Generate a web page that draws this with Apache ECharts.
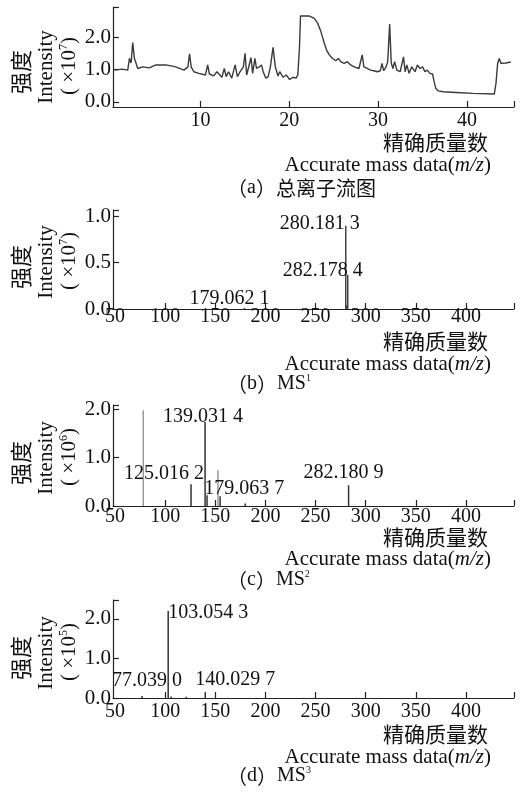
<!DOCTYPE html>
<html><head><meta charset="utf-8">
<script src="https://cdn.jsdelivr.net/npm/echarts@6/dist/echarts.min.js"></script>
<style>html,body{margin:0;padding:0;background:#fff}#c{width:530px;height:792px}</style>
</head><body><div id="c"></div>
<script>
// ---------- (a) total ion chromatogram ----------
const ticTime = [0.33,1.2,1.81,2.0,2.19,2.37,2.56,2.75,2.93,3.49,4.23,4.98,6.10,7.21,8.14,8.58,8.77,8.95,9.25,9.81,10.56,10.81,11.0,11.48,11.85,12.41,12.68,12.90,13.16,13.52,13.90,14.16,14.46,14.83,15.02,15.20,15.39,15.69,15.87,16.13,16.31,16.61,16.87,17.06,17.36,17.62,17.87,18.17,18.43,18.73,18.92,19.29,19.66,20.04,20.40,20.77,20.96,21.15,21.26,22.27,22.82,23.19,23.56,23.94,24.20,24.50,24.87,25.23,25.53,25.79,26.17,26.54,26.91,27.29,27.84,28.21,28.40,28.77,29.14,29.52,29.88,30.25,30.44,30.63,30.89,31.08,31.30,31.48,31.67,31.86,32.11,32.48,32.86,33.04,33.23,33.49,33.79,34.16,34.42,34.71,35.01,35.27,35.54,35.83,36.13,36.27,36.50,36.76,37.32,38.81,40.67,43.08,43.27,43.46,43.64,43.82,44.38,44.94];
const ticIntensity = [0.98,1.01,0.98,1.34,1.20,1.83,1.34,1.19,1.03,1.08,1.05,1.14,1.14,1.08,0.98,1.08,1.48,1.08,0.93,0.88,0.83,1.14,0.86,0.80,0.93,0.76,1.03,0.78,0.93,0.73,1.14,0.78,0.93,1.08,1.50,0.83,0.78,1.37,0.88,1.34,1.03,1.08,1.14,0.93,0.73,0.78,1.08,1.68,1.08,0.80,0.93,0.76,0.83,0.69,0.76,0.73,0.83,1.70,2.65,2.65,2.58,2.43,2.17,1.81,1.60,1.45,1.34,1.27,1.34,1.24,1.19,1.24,1.14,1.08,1.03,1.45,1.08,1.03,0.98,0.96,0.93,0.96,1.19,0.96,1.08,1.24,2.40,1.19,1.03,1.24,0.98,0.93,1.39,0.93,1.14,0.88,1.08,0.93,1.14,1.03,1.08,0.93,0.98,0.88,0.86,0.67,0.41,0.34,0.31,0.29,0.26,0.24,0.57,1.19,1.34,1.19,1.20,1.23];
const ticXLabels = [10, 20, 30, 40];
const ticYLabels = [0, 1, 2];

// ---------- (b) MS1 ----------
const ms1Mz = [179.0621, 280.1813, 281.18, 282.1784];
const ms1Intensity = [0.012, 0.90, 0.04, 0.37];
const ms1PeakLabels = ['179.062 1', '280.181 3', '', '282.178 4'];
const ms1YLabels = [0, 0.5, 1.0];

// ---------- (c) MS2 ----------
const ms2Mz = [125.0162, 139.0314, 141.0, 154.0, 179.0637, 282.1809];
const ms2Intensity = [0.45, 1.74, 0.22, 0.20, 0.05, 0.43];
const ms2PeakLabels = ['125.016 2', '139.031 4', '', '', '179.063 7', '282.180 9'];
const ms2FaintMz = [79.0, 153.5];
const ms2FaintIntensity = [1.98, 0.74];
const ms2YLabels = [0, 1, 2];

// ---------- (d) MS3 ----------
const ms3Mz = [77.0390, 103.0543, 106.0, 121.0, 140.0297];
const ms3Intensity = [0.05, 2.20, 0.04, 0.03, 0.15];
const ms3PeakLabels = ['77.039 0', '103.054 3', '', '', '140.029 7'];
const ms3YLabels = [0, 1, 2];

const msXLabels = [50, 100, 150, 200, 250, 300, 350, 400];
const msXTicks = [100, 150, 200, 250, 300, 350, 400];

// ---------- layout / style ----------
const SERIF = '"Liberation Serif","Times New Roman",serif';
const CJK = '"Noto Sans CJK SC",sans-serif';
const INK = '#111';
const panels = [
  {top: 7,   h: 100, ymin: -0.16, ymax: 2.93, xmin: 0.15, xmax: 45.3, xl: ticXLabels, xt: ticXLabels.concat([45.3]), yl: ticYLabels, lm: 4,
   yname: 67, exp: '7', title: 142, eng: 165, cap: 188, capL: 'a', capT: '总离子流图'},
  {top: 210, h: 99,  ymin: 0, ymax: 1.07, xmin: 48, xmax: 448, xl: msXLabels, xt: msXTicks.concat([448]), yl: ms1YLabels, lm: -2,
   yname: 262, exp: '7', title: 341, eng: 364, cap: 384, capL: 'b', capMS: '1'},
  {top: 405, h: 101, ymin: 0, ymax: 2.09, xmin: 48, xmax: 448, xl: msXLabels, xt: msXTicks.concat([448]), yl: ms2YLabels, lm: 1,
   yname: 458, exp: '6', title: 537, eng: 559, cap: 580, capL: 'c', capMS: '2'},
  {top: 600, h: 98,  ymin: 0, ymax: 2.48, xmin: 48, xmax: 448, xl: msXLabels, xt: msXTicks.concat([448]), yl: ms3YLabels, lm: 4,
   yname: 653, exp: '5', title: 734, eng: 757, cap: 776, capL: 'd', capMS: '3'}
];
const labelOffsets = {
  ms1: [[-15, 6], [-26, 13], null, [-25, 11]],
  ms2: [[-27, 4], [-2, 10], null, null, [-1, 0], [-5, 3]],
  ms3: [[5, 0], [40, 17], null, null, [30, 3]]
};

const axisLine = {show: true, onZero: false, lineStyle: {color: '#222', width: 1.2}};
const grids = [], xAxes = [], yAxes = [], graphics = [];
panels.forEach((p, i) => {
  grids.push({left: 113, width: 401, top: p.top, height: p.h});
  xAxes.push({type: 'value', gridIndex: i, min: p.xmin, max: p.xmax, splitLine: {show: false},
    axisLine: axisLine,
    axisTick: {show: true, inside: true, length: 6, customValues: p.xt, lineStyle: {color: '#222', width: 1.2}},
    axisLabel: {customValues: p.xl, margin: p.lm, color: INK, fontFamily: SERIF, fontSize: 20}});
  yAxes.push({type: 'value', gridIndex: i, min: p.ymin, max: p.ymax, splitLine: {show: false},
    axisLine: axisLine,
    axisTick: {show: true, inside: true, length: 6, customValues: p.yl.concat([p.ymax]), lineStyle: {color: '#222', width: 1.2}},
    axisLabel: {customValues: p.yl, margin: 2, color: INK, fontFamily: SERIF, fontSize: 21,
      formatter: v => v.toFixed(1)}});
  // y-axis names (three rotated columns)
  graphics.push({type: 'text', x: 21, y: p.yname + 5, rotation: Math.PI / 2,
    style: {text: '强度', font: '22px ' + CJK, fill: INK, align: 'center', verticalAlign: 'middle', textAlign: 'center', textVerticalAlign: 'middle'}});
  graphics.push({type: 'text', x: 46, y: p.yname, rotation: Math.PI / 2,
    style: {text: 'Intensity', font: '21px ' + SERIF, fill: INK, align: 'center', verticalAlign: 'middle', textAlign: 'center', textVerticalAlign: 'middle'}});
  graphics.push({type: 'text', x: 69, y: p.yname - 1, rotation: Math.PI / 2,
    style: {text: '{t|( ×10}{s|' + p.exp + '}{t|)}', fill: INK, align: 'center', verticalAlign: 'middle', textAlign: 'center', textVerticalAlign: 'middle',
      rich: {t: {fontFamily: SERIF, fontSize: 21, lineHeight: 22, fill: INK},
             s: {fontFamily: SERIF, fontSize: 12, lineHeight: 12, verticalAlign: 'top', fill: INK}}}});
  // x-axis titles
  graphics.push({type: 'text', x: 488, y: p.title,
    style: {text: '精确质量数', font: '21px ' + CJK, fill: INK, align: 'right', verticalAlign: 'middle', textAlign: 'right', textVerticalAlign: 'middle'}});
  graphics.push({type: 'text', x: 491, y: p.eng,
    style: {text: 'Accurate mass data({i|m/z})', font: '21px ' + SERIF, fill: INK, align: 'right', verticalAlign: 'middle', textAlign: 'right', textVerticalAlign: 'middle',
      rich: {i: {fontFamily: SERIF, fontSize: 21, fontStyle: 'italic', fill: INK}}}});
  // caption
  const capText = p.capT
    ? '{c|（}{e|' + p.capL + '}{c|）}{c|' + p.capT + '}'
    : '{c|（}{e|' + p.capL + '}{c|）}{e|MS}{s|' + p.capMS + '}';
  graphics.push({type: 'text', x: 227, y: p.cap,
    style: {text: capText, fill: INK, align: 'left', verticalAlign: 'middle', textAlign: 'left', textVerticalAlign: 'middle',
      rich: {c: {fontFamily: CJK, fontSize: 20, lineHeight: 22, fill: INK},
             e: {fontFamily: SERIF, fontSize: 20, lineHeight: 22, fill: INK},
             s: {fontFamily: SERIF, fontSize: 10, lineHeight: 10, verticalAlign: 'top', fill: INK}}}});
});

function spectrum(idx, mz, inten, labels, offsets, color) {
  return {type: 'bar', xAxisIndex: idx, yAxisIndex: idx, barWidth: 1.5, itemStyle: {color: color},
    animation: false,
    data: mz.map((m, i) => ({value: [m, inten[i]],
      label: labels && labels[i] ? {show: true, position: 'top', formatter: labels[i], offset: offsets[i],
        color: INK, fontFamily: SERIF, fontSize: 20} : {show: false}}))};
}

const series = [
  {type: 'line', xAxisIndex: 0, yAxisIndex: 0, showSymbol: false, animation: false,
   lineStyle: {color: '#3a3a3a', width: 1.4}, data: ticTime.map((t, i) => [t, ticIntensity[i]])},
  spectrum(1, ms1Mz, ms1Intensity, ms1PeakLabels, labelOffsets.ms1, '#444'),
  spectrum(2, ms2FaintMz, ms2FaintIntensity, null, null, '#9a9a9a'),
  spectrum(2, ms2Mz, ms2Intensity, ms2PeakLabels, labelOffsets.ms2, '#333'),
  spectrum(3, ms3Mz, ms3Intensity, ms3PeakLabels, labelOffsets.ms3, '#333')
];

const chart = echarts.init(document.getElementById('c'), null, {renderer: 'canvas'});
chart.setOption({backgroundColor: '#fff', animation: false, grid: grids, xAxis: xAxes, yAxis: yAxes, series: series, graphic: graphics});
</script></body></html>
